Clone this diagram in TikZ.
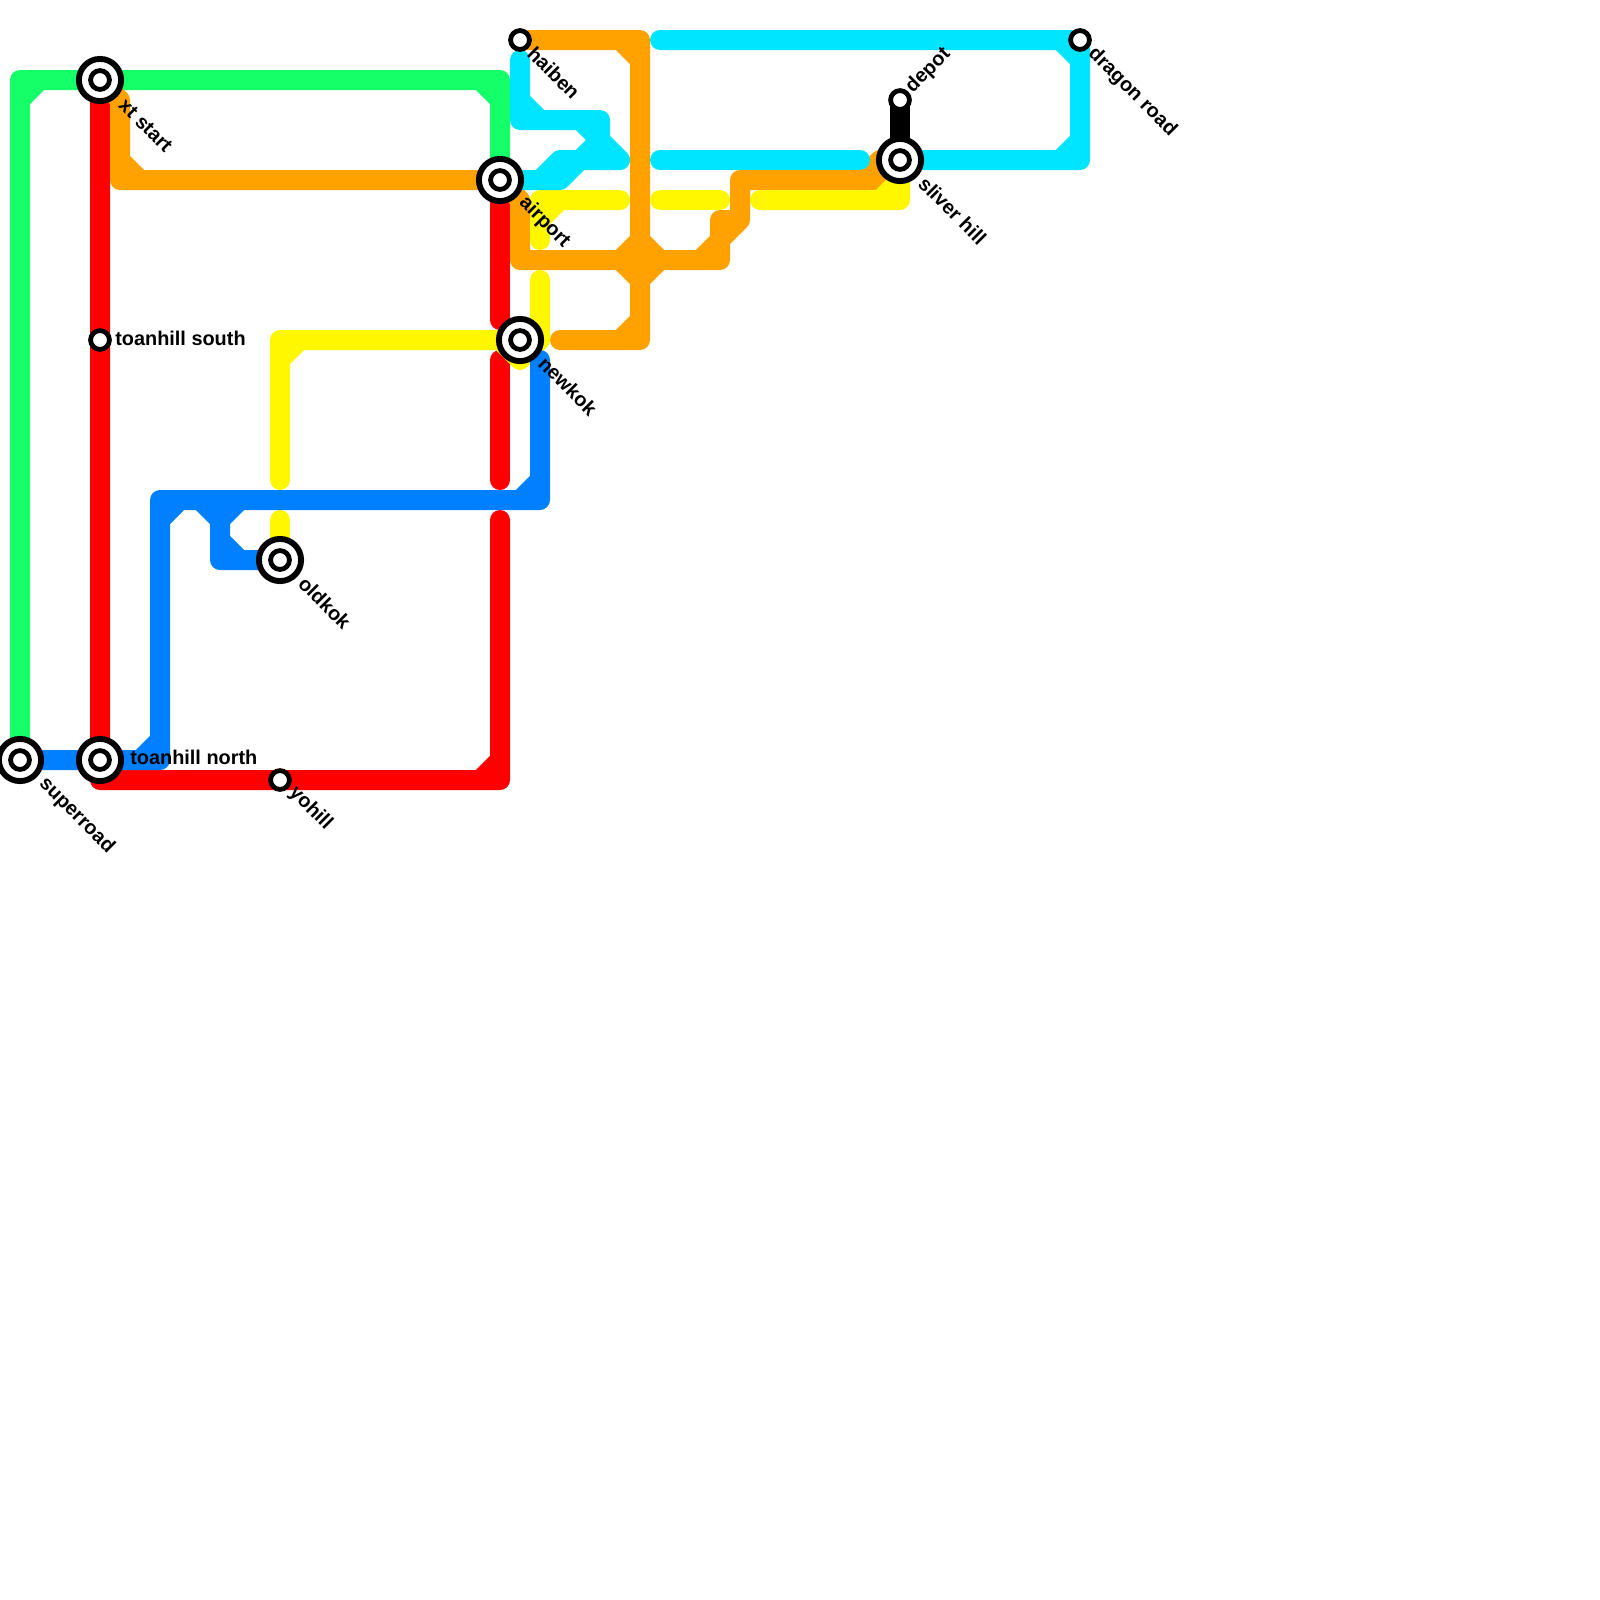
\documentclass[tikz,border=0pt]{standalone}
\usepackage{fontspec}
\setmainfont{Liberation Sans}
\usetikzlibrary{backgrounds}
\definecolor{greenln}{HTML}{14FF68}
\definecolor{redln}{HTML}{FF0000}
\definecolor{blueln}{HTML}{0080FF}
\definecolor{cyanln}{HTML}{00E5FF}
\definecolor{orangeln}{HTML}{FFA200}
\definecolor{yellowln}{HTML}{FFF700}
\tikzset{
  metro/.style={line width=0.5cm,line cap=round,line join=round},
  smallst/.style={circle,draw=black,fill=white,line width=3.4pt,inner sep=0pt,outer sep=0pt,minimum size=13.4pt},
  bigst/.style={circle,draw=black,fill=white,line width=4.2pt,inner sep=0pt,outer sep=0pt,minimum size=30pt},
  stname/.style={font=\bfseries\fontsize{14.15}{14.15}\selectfont,anchor=west,inner sep=0pt}
}
\begin{document}
\begin{tikzpicture}[x=0.5cm,y=-0.5cm]
	\useasboundingbox (0,0) rectangle (80,80);
	%
	% macro: big station with name, x, y
	\newcommand{\bigstation}[3]{
	  \node[bigst] (#1) at (#2,#3) {};
	  \node[smallst] (#1-in) at (#2,#3) {};
	}
	% macro: label of a station, at offset, with angle
	\newcommand{\stlabel}[4]{
	  \node[stname,rotate=#3] (#1-name) at ([shift={#2}]#1) {#4};
	}
	%
	\bigstation{superroad}{1}{38}
	\bigstation{northst}{5}{38}
	\bigstation{xtstart}{5}{4}
	\bigstation{oldkok}{14}{28}
	\bigstation{airport}{25}{9}
	\bigstation{newkok}{26}{17}
	\bigstation{sliver}{45}{8}
	\node[smallst] (southst) at (5,17) {};
	\node[smallst] (yohill) at (14,39) {};
	\node[smallst] (haiben) at (26,2) {};
	\node[smallst] (depot) at (45,5) {};
	\node[smallst] (dragon) at (54,2) {};
	%
	\stlabel{superroad}{(1.1,1.05)}{-45}{superroad}
	\stlabel{northst}{(1.5,-0.12)}{0}{toanhill north}
	\stlabel{xtstart}{(1.1,1.1)}{-45}{xt start}
	\stlabel{southst}{(0.75,-0.1)}{0}{toanhill south}
	\stlabel{yohill}{(0.6,0.5)}{-45}{yohill}
	\stlabel{oldkok}{(1.1,1)}{-45}{oldkok}
	\stlabel{airport}{(1.1,1)}{-45}{airport}
	\stlabel{newkok}{(1.1,1)}{-45}{newkok}
	\stlabel{haiben}{(0.55,0.5)}{-45}{haiben}
	\stlabel{depot}{(0.45,-0.5)}{45}{depot}
	\stlabel{dragon}{(0.55,0.55)}{-45}{dragon road}
	\stlabel{sliver}{(1.1,1)}{-45}{sliver hill}
	%
	\begin{scope}[on background layer]
	  % red
	  \draw[metro,redln] (xtstart.center) -- (northst.center) -- (5,39) -- (yohill.center) -- (25,39) -- (25,26) (24,39) -- (25,38);
	  \draw[metro,redln] (25,18) -- (25,24);
	  \draw[metro,redln] (airport.center) -- (25,16);
	  % green
	  \draw[metro,greenln] (superroad.center) -- (1,4) -- (xtstart.center) -- (25,4) -- (airport.center) (1,5) -- (2,4) (24,4) -- (25,5);
	  % orange
	  \draw[metro,orangeln] (xtstart.center) -- (6,5) -- (6,9) -- (airport.center) (6,8) -- (7,9);
	  \draw[metro,orangeln] (airport.center) -- (26,10) -- (26,13) -- (36,13) -- (36,11) -- (37,11) -- (37,9) -- (44,9) -- (44,8) -- (sliver.center) (43,9) -- (44,8) (44,9) -- (sliver.center) (35,13) -- (36,12) -- (37,11);
	  \draw[metro,orangeln] (haiben.center) -- (32,2) -- (32,17) -- (28,17) (31,2) -- (32,3) (31,17) -- (32,16) (31,13) -- (32,12) -- (33,13) -- (32,14) -- (31,13);
	  % yellow
	  \draw[metro,yellowln] (oldkok.center) -- (14,26);
	  \draw[metro,yellowln] (14,24) -- (14,17) -- (newkok.center) (14,18) -- (15,17);
	  \draw[metro,yellowln] (25,17) -- (26,18) -- (27,17) -- (27,14);
	  \draw[metro,yellowln] (27,12) -- (27,10) -- (31,10) (27,11) -- (28,10);
	  \draw[metro,yellowln] (33,10) -- (36,10);
	  \draw[metro,yellowln] (38,10) -- (45,10) -- (sliver.center) (44,10) -- (45,9);
	  % cyan
	  \draw[metro,cyanln] (26,3) -- (26,6) -- (30,6) -- (30,7) -- (31,8) -- (28,8) -- (27,9) -- (airport.center) (26,5) -- (27,6) (29,6) -- (30,7) -- (29,8) -- (28,9) -- (27,9);
	  \draw[metro,cyanln] (33,2) -- (dragon.center) -- (54,8) -- (sliver.center) (53,2) -- (54,3) (53,8) -- (54,7);
	  \draw[metro,cyanln] (33,8) -- (43,8);
	  % blue
	  \draw[metro,blueln] (superroad.center) -- (northst.center) -- (8,38) -- (8,25) -- (27,25) -- (27,18) (7,38) -- (8,37) (8,26) -- (9,25) (26,25) -- (27,24);
	  \draw[metro,blueln] (11,25) -- (11,28) -- (oldkok.center) (10,25) -- (11,26) -- (12,25) (11,27) -- (12,28);
	  % black
	  \draw[metro,black] (depot.center) -- (sliver.center);
	\end{scope}
\end{tikzpicture}
\end{document}
